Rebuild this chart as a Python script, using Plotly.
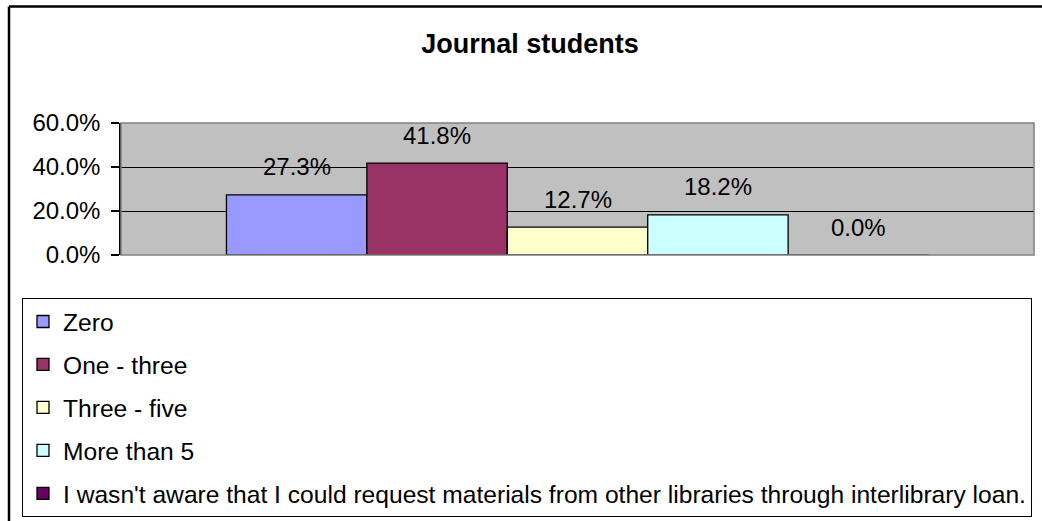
import plotly.graph_objects as go

title = "Journal students"
series_names = [
    "Zero",
    "One - three",
    "Three - five",
    "More than 5",
    "I wasn't aware that I could request materials from other libraries through interlibrary loan.",
]
series_values = [0.273, 0.418, 0.127, 0.182, 0.0]
series_colors = ["#9999FF", "#993366", "#FFFFCC", "#CCFFFF", "#660066"]
y_ticks = [0.0, 0.2, 0.4, 0.6]

FONT = "Arial, 'Liberation Sans', sans-serif"
W, H = 1042, 521
L, R, T, B = 121, 8, 123, 266
bargap = 0.231

fig = go.Figure()
for i, (name, val, col) in enumerate(zip(series_names, series_values, series_colors)):
    fig.add_trace(go.Bar(
        x=[0], y=[val], name=name,
        marker=dict(color=col, line=dict(color="black", width=1.3)),
        legendgroup=f"g{i}",
        hoverinfo="skip",
    ))

# data labels above bars
n = len(series_values)
bw = (1 - bargap) / n
for i, val in enumerate(series_values):
    fig.add_annotation(
        x=(i - (n - 1) / 2) * bw, y=val, xref="x", yref="y",
        text=f"{val*100:.1f}%", showarrow=False,
        yshift=28, yanchor="middle",
        font=dict(family=FONT, size=24, color="black"),
    )

pw = W - L - R
ph = H - T - B

# outer chart border (top and left visible)
fig.add_shape(type="line", xref="paper", yref="paper",
              x0=(9 - L) / pw, x1=(W + 5 - L) / pw,
              y0=(H - B - 6.5) / ph, y1=(H - B - 6.5) / ph,
              line=dict(color="black", width=2.5))
fig.add_shape(type="line", xref="paper", yref="paper",
              x0=(9 - L) / pw, x1=(9 - L) / pw,
              y0=(H - B - 6.5) / ph, y1=(H - B - H - 5) / ph,
              line=dict(color="black", width=2.5))
# plot area border
fig.add_shape(type="rect", xref="paper", yref="paper", x0=0, x1=1, y0=0, y1=1,
              line=dict(color="#808080", width=1.5), layer="above")

fig.update_layout(
    width=W, height=H,
    margin=dict(l=L, r=R, t=T, b=B, pad=0, autoexpand=False),
    paper_bgcolor="white",
    plot_bgcolor="#C0C0C0",
    barmode="group",
    bargap=bargap,
    bargroupgap=0,
    title=dict(text=f"<b>{title}</b>", x=530 / W, xanchor="center",
               y=1 - 44 / H, yanchor="middle", yref="container",
               font=dict(family=FONT, size=27, color="black")),
    font=dict(family=FONT, size=24, color="black"),
    xaxis=dict(range=[-0.5, 0.5], showticklabels=False, showgrid=False,
               zeroline=False, showline=False, ticks="", fixedrange=True),
    yaxis=dict(range=[0, 0.6], tickvals=y_ticks, tickformat=".1%",
               showgrid=True, gridcolor="black", gridwidth=1,
               zeroline=False, showline=True, linecolor="black", linewidth=1.5,
               ticks="outside", ticklen=8, tickcolor="black", tickwidth=1.5,
               ticklabelstandoff=6, automargin=False,
               tickfont=dict(family=FONT, size=24, color="black")),
    showlegend=True,
    legend=dict(
        xref="container", yref="container",
        x=22 / W, xanchor="left",
        y=1 - 298 / H, yanchor="top",
        bgcolor="white", bordercolor="black", borderwidth=1,
        font=dict(family=FONT, size=24.6, color="black"),
        tracegroupgap=8, itemwidth=30,
        traceorder="grouped",
    ),
)

fig.write_html(
    "out.html",
    config={"displayModeBar": False},
    post_script="document.body.style.margin='0';document.body.style.overflow='hidden';",
)
